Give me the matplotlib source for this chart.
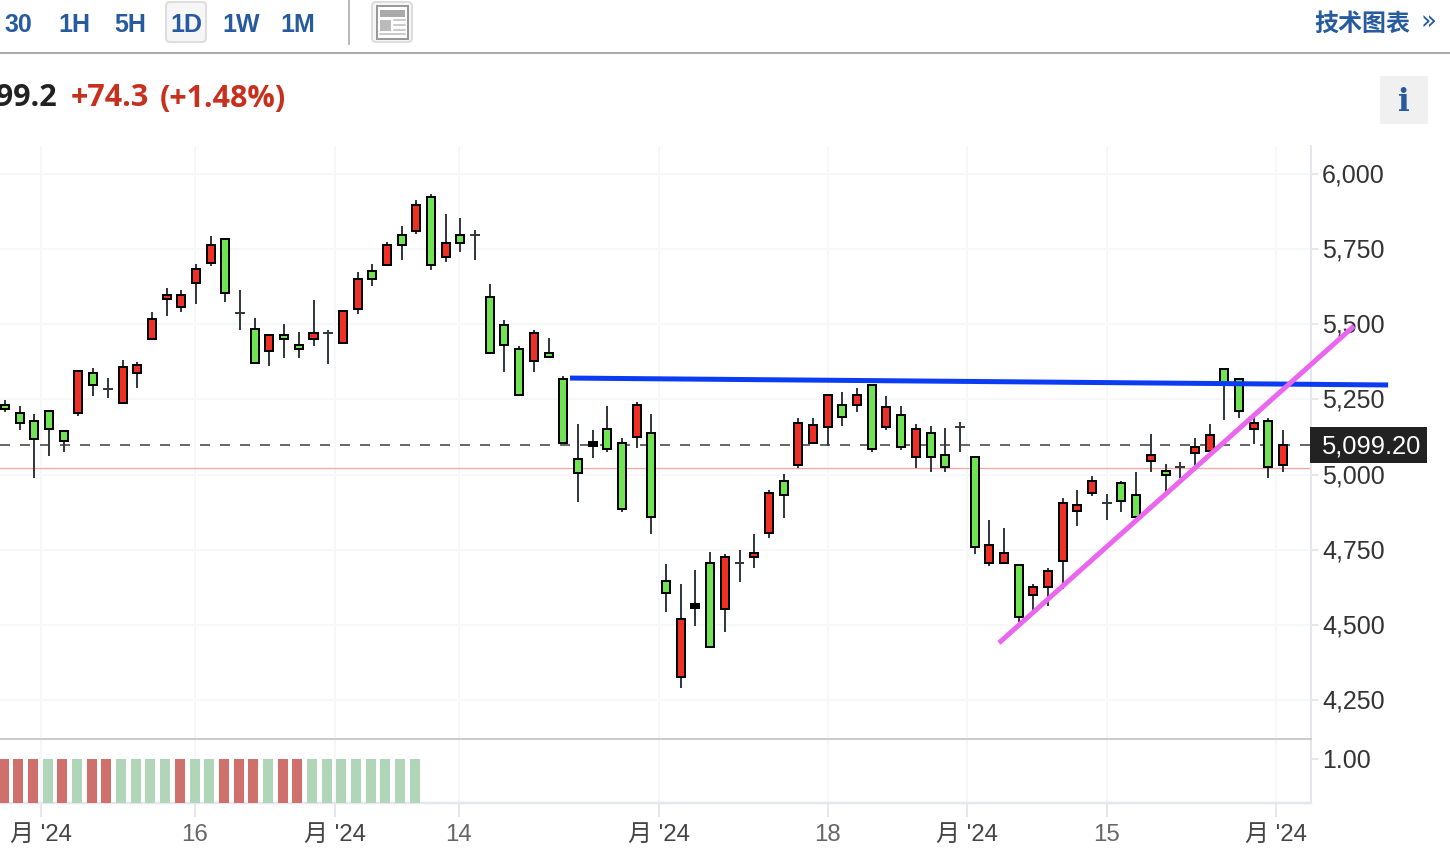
import matplotlib
matplotlib.use("Agg")
import matplotlib.pyplot as plt
from matplotlib.patches import Rectangle, FancyBboxPatch
from matplotlib.transforms import ScaledTranslation

# ---- data ----
opens = [5232,5206,5179,5212,5146,5204,5339,5285,5237,5337,5450,5583,5556,5636,5703,5785,5537,5485,5410,5465,
         5432,5450,5472,5437,5550,5678,5696,5798,5809,5924,5723,5798,5797,5592,5499,5419,5377,5405,5319,5053,
         5096,5153,5106,5124,5139,4647,4325,4557,4707,4552,4707,4725,4804,4980,5031,5104,5157,5232,5230,5299,
         5157,5199,5057,5139,5066,5158,5059,4705,4705,4700,4598,4625,4711,4878,4938,4906,4973,4933,5044,5013,
         5026,5071,5077,5352,5319,5151,5179,5031]
highs = [5248,5228,5201,5212,5146,5346,5354,5320,5381,5374,5540,5620,5614,5700,5794,5785,5614,5521,5465,5501,
         5474,5581,5481,5545,5674,5700,5774,5827,5913,5933,5867,5854,5814,5634,5514,5428,5481,5454,5328,5168,
         5148,5228,5122,5241,5201,4702,4636,4682,4742,4736,4749,4802,4949,5002,5188,5188,5268,5275,5288,5301,
         5261,5228,5168,5161,5155,5175,5059,4849,4822,4700,4636,4689,4922,4949,4995,4935,4980,5008,5135,5035,
         5042,5122,5168,5352,5319,5201,5188,5148]
lows = [5209,5148,4990,5062,5076,5195,5261,5255,5237,5288,5450,5528,5541,5567,5694,5574,5481,5370,5361,5388,
        5388,5428,5368,5437,5534,5627,5696,5714,5800,5681,5707,5740,5714,5403,5341,5264,5341,5390,5104,4909,
        5055,5075,4875,5088,4802,4543,4290,4496,4425,4476,4643,4689,4789,4855,5022,5104,5095,5161,5208,5075,
        5148,5082,5022,5008,5008,5075,4736,4696,4705,4510,4549,4563,4619,4829,4929,4849,4875,4858,5008,4935,
        4988,5025,5077,5182,5188,5102,4988,5008]
closes = [5217,5171,5117,5151,5111,5346,5297,5285,5359,5365,5519,5598,5598,5685,5765,5603,5537,5370,5465,5450,
          5417,5472,5472,5545,5652,5650,5765,5763,5898,5696,5771,5771,5797,5403,5430,5264,5472,5390,5104,5004,
          5107,5084,4884,5232,4858,4605,4520,4568,4425,4727,4707,4740,4940,4931,5172,5166,5266,5190,5266,5084,
          5226,5091,5153,5057,5024,5158,4758,4767,4740,4525,4627,4680,4906,4900,4980,4906,4911,4858,5066,4997,
          5026,5093,5133,5306,5210,5172,5024,5099.2]
doji_days = [7,16,22,32,50,65,75,80]
black_days = [40,47]

last_price = 5099.2
low_mark = 5021
resistance_x = [38.46, 94.15]
resistance_y = [5321, 5298]
support_x = [67.66, 91.83]
support_y = [4440, 5494]

vol_values = [1.0]*29
vol_up = [1,1,1,0,1,0,1,1,0,0,0,0,1,0,0,1,1,1,0,1,1,0,0,0,0,0,0,0,0]

price_ticks = [4250,4500,4750,5000,5250,5500,5750,6000]
date_ticks = [2.45,12.9,22.45,30.9,44.55,56.0,65.5,75.0,86.55]
date_labels = ["月 '24","16","月 '24","14","月 '24","18","月 '24","15","月 '24"]
tool_labels = ["30","1H","5H","1D","1W","1M"]

W, H = 1450, 854
px = 0.72
SANS = ['Liberation Sans','Noto Sans CJK SC']
plt.rcParams['font.family'] = SANS

RED, GREEN, WICK = '#ee3124', '#6fe351', '#333b40'
GRID, AXIS = '#f6f7f9', '#e4e7ec'

fig = plt.figure(figsize=(W/100, H/100), dpi=100, facecolor='white')
def box(l, t, r, b, **k):
    return fig.add_axes([l/W, 1-b/H, (r-l)/W, (b-t)/H], **k)

ax = box(0, 147, 1311, 740, facecolor='none')
vx = box(0, 740, 1311, 804, facecolor='none', sharex=ax)
ui = fig.add_axes([0, 0, 1, 1], facecolor='none', zorder=10)
ui.set_xlim(0, W); ui.set_ylim(H-1, -1); ui.axis('off')

ax.set_xlim(-0.34, 88.9)
ax.set_ylim(4120.3, 6093)

# grid
ax.set_yticks(price_ticks)
ax.set_yticklabels([f"{v:,}" for v in price_ticks])
ax.set_xticks(date_ticks)
ax.grid(True, color=GRID, lw=1.8*px, zorder=0)
ax.set_axisbelow(True)
ax.yaxis.tick_right()
ax.tick_params(axis='y', length=5, width=2*px, color=AXIS, labelsize=25*px, labelcolor='#333333', pad=4*px)
ax.tick_params(axis='x', length=0, labelbottom=False)
for s in ['top','left','bottom']:
    ax.spines[s].set_visible(False)
ax.spines['right'].set_color(AXIS); ax.spines['right'].set_linewidth(2*px)

# reference lines
ax.axhline(low_mark, color='#f2a6a6', lw=1.3*px, zorder=1)
ax.axhline(last_price, color='#444444', lw=1.6*px, dashes=(10/1.6, 10/1.6), zorder=1)

# candles
n = len(opens)
xs = list(range(n))
ax.vlines(xs, lows, highs, color=WICK, lw=2*px, zorder=2)
for i in xs:
    o, c = opens[i], closes[i]
    if i in doji_days:
        ax.hlines(c, i-0.33, i+0.33, color=WICK, lw=2*px, zorder=3)
        continue
    col = RED if c > o else GREEN
    if i in black_days:
        col = 'black'
    ax.bar(i, abs(c-o), bottom=min(o, c), width=8/14.69, facecolor=col,
           edgecolor='black', lw=2*px, zorder=4)

# drawn lines
ax.plot(resistance_x, resistance_y, color='#0b3cf2', lw=5*px, clip_on=False, zorder=6, solid_capstyle='butt')
ax.plot(support_x, support_y, color='#ea66ee', lw=5*px, clip_on=False, zorder=7, solid_capstyle='butt')

# volume panel
vx.set_ylim(0, 1.46)
vcols = ['#d0706c' if u else '#b0d5b8' for u in vol_up]
vx.bar([i-0.1 for i in range(len(vol_values))], vol_values, width=10/14.69, color=vcols, zorder=3)
vx.set_yticks([1.0]); vx.set_yticklabels(['1.00'])
vx.yaxis.tick_right()
vx.grid(True, axis='x', color=GRID, lw=1.8*px, zorder=0)
vx.set_axisbelow(True)
vx.set_xticks(date_ticks); vx.set_xticklabels(date_labels)
vx.tick_params(axis='y', length=5, width=2*px, color=AXIS, labelsize=25*px, labelcolor='#333333', pad=4*px)
vx.tick_params(axis='x', length=10, width=2*px, color=AXIS, labelsize=24*px, labelcolor='#444444', pad=6*px)
for lab in vx.get_xticklabels():
    if lab.get_text().isdigit():
        lab.set_color('#666666')
vx.spines['left'].set_visible(False)
vx.spines['top'].set_color('#cccccc'); vx.spines['top'].set_linewidth(2*px)
vx.spines['right'].set_color(AXIS); vx.spines['right'].set_linewidth(2*px)
vx.spines['bottom'].set_color(AXIS); vx.spines['bottom'].set_linewidth(2.5*px)

# nudge the price labels up to where the reference prints them
nudge = ScaledTranslation(0, 2/100, fig.dpi_scale_trans)
for lab in ax.get_yticklabels() + vx.get_yticklabels():
    lab.set_transform(lab.get_transform() + nudge)

# ---- page chrome ----
BLUE = '#275a9e'
HEAD = ['Open Sans', 'DejaVu Sans']
ui.plot([0, W], [53, 53], color='#aaaaaa', lw=2*px)
ui.add_patch(FancyBboxPatch((166, 2), 40, 40, boxstyle='round,pad=0,rounding_size=4', fc='#f6f6f6', ec='#dddddd', lw=2*px))
for lab, cx in zip(tool_labels, [18, 74, 130, 186, 241, 298]):
    ui.text(cx, 23.5, lab, color=BLUE, fontsize=25*px, fontweight='bold', ha='center', va='center', family=SANS)
ui.plot([349, 349], [0, 44], color='#bbbbbb', lw=2*px)
ui.add_patch(FancyBboxPatch((372, 2), 40, 40, boxstyle='round,pad=0,rounding_size=4', fc='#f6f6f6', ec='#dddddd', lw=2*px))
ui.add_patch(Rectangle((377, 6), 31, 33, fc='white', ec='#999999', lw=2*px))
ui.add_patch(Rectangle((380, 10), 25, 7, fc='#aaaaaa', ec='none'))
ui.add_patch(Rectangle((380, 20), 11, 11, fc='#bbbbbb', ec='none'))
for yy in (20, 25, 30):
    ui.plot([394, 405], [yy, yy], color='#bbbbbb', lw=1.5*px)
ui.plot([380, 405], [34, 34], color='#bbbbbb', lw=1.5*px)

ui.text(57, 97.5, "5,099.2", color='#222222', fontsize=30.5*px, fontweight='bold', ha='right', va='center', family=HEAD)
ui.text(71, 97.5, "+74.3", color='#c8301e', fontsize=30.5*px, fontweight='bold', ha='left', va='center', family=HEAD)
ui.text(160, 97.5, "(+1.48%)", color='#c8301e', fontsize=30.5*px, fontweight='bold', ha='left', va='center', family=HEAD)

ui.text(1362, 23, "技术图表", color=BLUE, fontsize=24*px, fontweight='bold', ha='center', va='center',
        family=['Noto Sans CJK SC', 'DejaVu Sans'])
ui.text(1428, 22, "»", color=BLUE, fontsize=26*px, ha='center', va='center', family=['DejaVu Sans'])
ui.add_patch(Rectangle((1380, 76), 48, 48, fc='#f0f0f0', ec='none'))
ui.text(1404, 101.5, "i", color=BLUE, fontsize=31*px, fontweight='bold', ha='center', va='center', family=['DejaVu Serif'])

ui.add_patch(Rectangle((1310, 427), 117, 36, fc='#222222', ec='none'))
ui.text(1322, 446, f"{last_price:,.2f}", color='white', fontsize=25.5*px, ha='left', va='center')

fig.savefig('out.png', dpi=100, facecolor='white')
